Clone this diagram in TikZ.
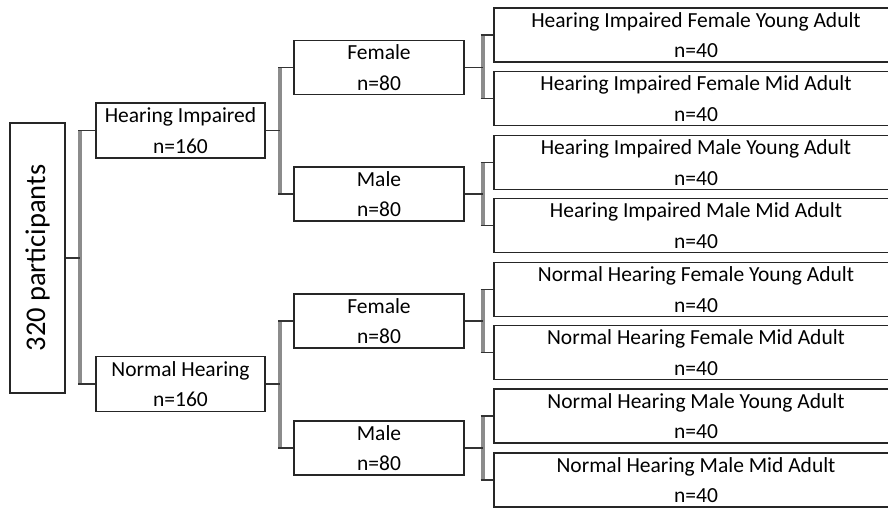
\documentclass[tikz,border=0pt]{standalone}
\usepackage{fontspec}
\setmainfont{Carlito}
\begin{document}
\begin{tikzpicture}[x=1pt,y=-1pt,
  box/.style={draw=black!85, line width=1.3pt, fill=white, inner sep=0pt,
    align=center, font=\fontsize{21.5}{30.5}\selectfont},
  midbox/.style={box, minimum width=170pt, minimum height=54pt},
  lvbox/.style={box, minimum width=169pt, minimum height=55pt},
  leafbox/.style={box, minimum width=404pt, minimum height=54pt},
  hline/.style={draw=black!80, line width=1.6pt},
  vbar/.style={draw=black!45, line width=4pt},
]
\useasboundingbox (0,0) rectangle (888,508);
% root
\node[box, minimum width=55pt, minimum height=270pt] (root) at (37.5,258)
  {\rotatebox{90}{\fontsize{28.5}{34}\selectfont 320 participants}};
% level 1
\node[lvbox] (hi) at (180.5,130.5) {Hearing Impaired\\n=160};
\node[lvbox] (nh) at (180.5,384) {Normal Hearing\\n=160};
% level 2
\node[midbox] (hif) at (379,67.5) {Female\\n=80};
\node[midbox] (him) at (379,194) {Male\\n=80};
\node[midbox] (nhf) at (379,321) {Female\\n=80};
\node[midbox] (nhm) at (379,448) {Male\\n=80};
% leaves
\node[leafbox] (l1) at (696,35) {Hearing Impaired Female Young Adult\\n=40};
\node[leafbox] (l2) at (696,98.5) {Hearing Impaired Female Mid Adult\\n=40};
\node[leafbox] (l3) at (696,162.5) {Hearing Impaired Male Young Adult\\n=40};
\node[leafbox] (l4) at (696,225.5) {Hearing Impaired Male Mid Adult\\n=40};
\node[leafbox] (l5) at (696,289.5) {Normal Hearing Female Young Adult\\n=40};
\node[leafbox] (l6) at (696,352.5) {Normal Hearing Female Mid Adult\\n=40};
\node[leafbox] (l7) at (696,416) {Normal Hearing Male Young Adult\\n=40};
\node[leafbox] (l8) at (696,480) {Normal Hearing Male Mid Adult\\n=40};
% junction columns
\coordinate (j0) at (80,0);
\coordinate (j1) at (280,0);
\coordinate (j2) at (482.5,0);
% root connector
\draw[vbar] (j0 |- hi.west) -- (j0 |- nh.west);
\draw[hline] (root.east) -- (root.east -| j0);
\draw[hline] ([xshift=-2pt]j0 |- hi.west) -- (hi.west);
\draw[hline] ([xshift=-2pt]j0 |- nh.west) -- (nh.west);
% level1 connectors
\foreach \p/\a/\b in {hi/hif/him, nh/nhf/nhm}{
  \draw[vbar] (j1 |- \a.west) -- (j1 |- \b.west);
  \draw[hline] (\p.east) -- (\p.east -| j1);
  \draw[hline] ([xshift=-2pt]j1 |- \a.west) -- (\a.west);
  \draw[hline] ([xshift=-2pt]j1 |- \b.west) -- (\b.west);
}
% level2 connectors
\foreach \p/\a/\b in {hif/l1/l2, him/l3/l4, nhf/l5/l6, nhm/l7/l8}{
  \draw[vbar] (j2 |- \a.west) -- (j2 |- \b.west);
  \draw[hline] (\p.east) -- (\p.east -| j2);
  \draw[hline] ([xshift=-2pt]j2 |- \a.west) -- (\a.west);
  \draw[hline] ([xshift=-2pt]j2 |- \b.west) -- (\b.west);
}
\end{tikzpicture}
\end{document}
